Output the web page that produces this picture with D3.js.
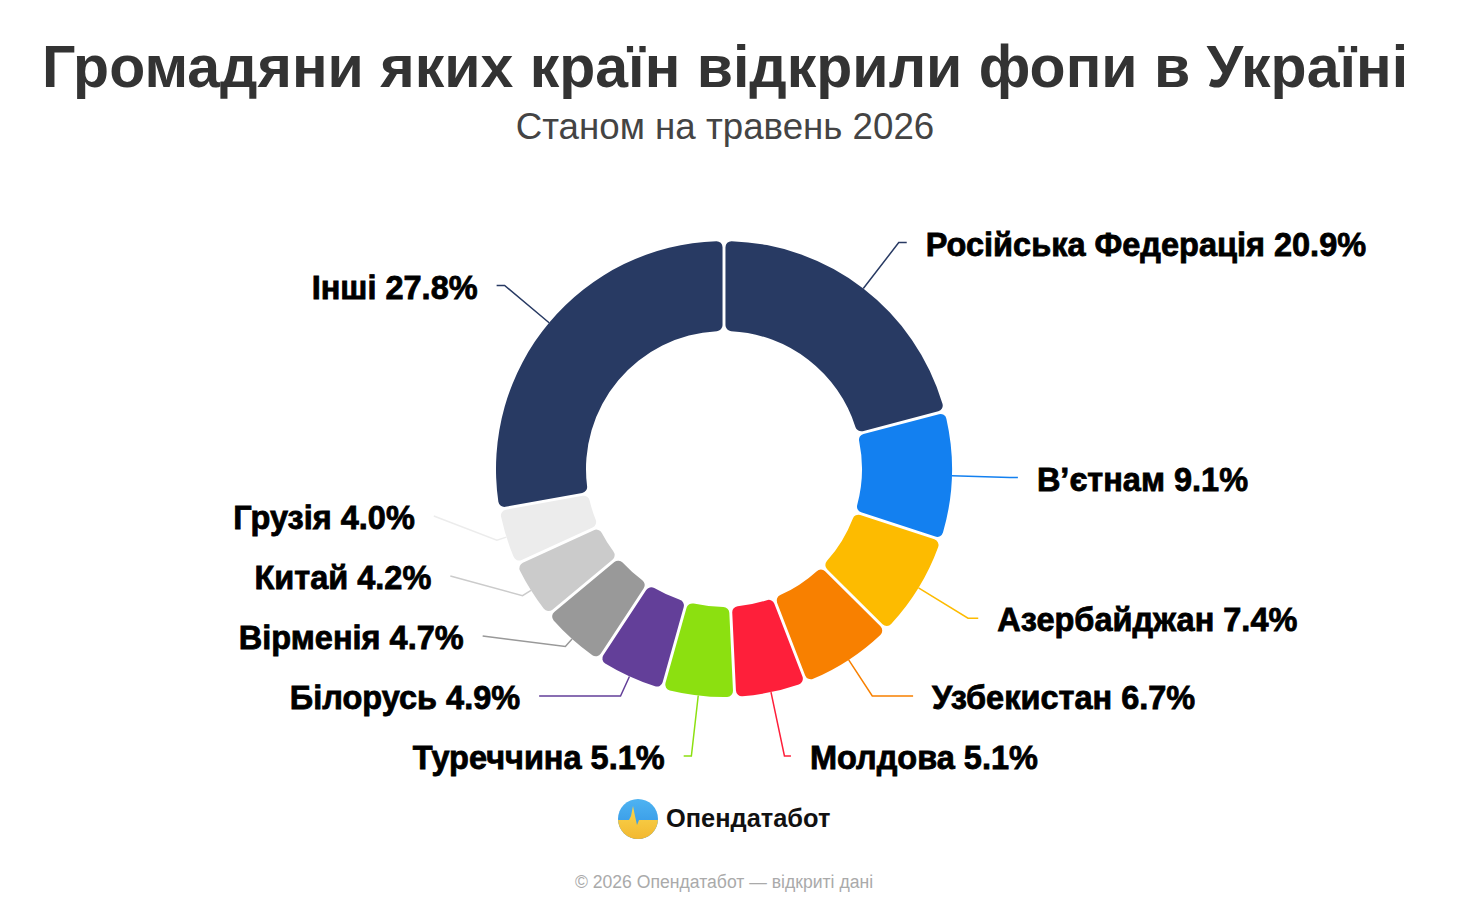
<!DOCTYPE html>
<html>
<head>
<meta charset="utf-8">
<script src="https://cdn.jsdelivr.net/npm/d3@7"></script>
<style>
  html, body { margin: 0; padding: 0; background: #fff; }
  svg { display: block; font-family: "Liberation Sans", Arial, sans-serif; }
</style>
</head>
<body>
<div id="chart"></div>
<script>
// дані
const categories = ["Російська Федерація", "В’єтнам", "Азербайджан", "Узбекистан", "Молдова",
  "Туреччина", "Білорусь", "Вірменія", "Китай", "Грузія", "Інші"];
const shares = [20.9, 9.1, 7.4, 6.7, 5.1, 5.1, 4.9, 4.7, 4.2, 4.0, 27.8];
const colors = ["#283a63", "#1380f0", "#fdbb00", "#f88000", "#fe1f3a",
  "#8ce010", "#633f99", "#999999", "#cbcbcb", "#ececec", "#283a63"];

const titleText = "Громадяни яких країн відкрили фопи в Україні";
const subtitleText = "Станом на травень 2026";
const brandText = "Опендатабот";
const footerText = "© 2026 Опендатабот — відкриті дані";

const width = 1480, height = 918;
const cx = 724, cy = 469;
const R = 228, r0 = 138;
const len = 58, len2 = 8, textGap = 19, labelGap = 60, maxY = 756;

const svg = d3.select("#chart").append("svg")
  .attr("width", width)
  .attr("height", height);

svg.append("rect").attr("width", width).attr("height", height).attr("fill", "#fff");

// заголовок
svg.append("text")
  .attr("x", cx + 1).attr("y", 87)
  .attr("text-anchor", "middle")
  .attr("font-size", 59).attr("font-weight", "bold")
  .attr("fill", "#333")
  .text(titleText);

svg.append("text")
  .attr("x", cx + 1).attr("y", 139)
  .attr("text-anchor", "middle")
  .attr("font-size", 36.7)
  .attr("fill", "#444")
  .text(subtitleText);

// кільце
const data = categories.map((c, i) => ({ name: c, value: shares[i], color: colors[i] }));
const pie = d3.pie().sort(null).value(d => d.value);
const arcs = pie(data);

const arc = d3.arc()
  .innerRadius(r0)
  .outerRadius(R)
  .cornerRadius(6)
  .padAngle(0.011);

const g = svg.append("g").attr("transform", `translate(${cx},${cy})`);
g.selectAll("path.slice")
  .data(arcs)
  .enter()
  .append("path")
  .attr("class", "slice")
  .attr("d", arc)
  .attr("fill", d => d.data.color);

// розкладка підписів
let items = arcs.map(a => {
  let mid = (a.startAngle + a.endAngle) / 2;
  let sx = Math.sin(mid), sy = -Math.cos(mid);
  return {
    d: a.data,
    sx, sy,
    dir: sx >= 0 ? 1 : -1,
    p0: [cx + R * sx, cy + R * sy],
    nx: cx + (R + len) * sx,
    y: cy + (R + len) * sy
  };
});

[1, -1].forEach(dir => {
  let side = items.filter(it => it.dir === dir).sort((a, b) => a.y - b.y);
  for (let i = 1; i < side.length; i++) {
    side[i].y = Math.max(side[i].y, side[i - 1].y + labelGap);
  }
  let last = side[side.length - 1];
  if (last.y > maxY) {
    last.y = maxY;
    for (let i = side.length - 2; i >= 0; i--) {
      side[i].y = Math.min(side[i].y, side[i + 1].y - labelGap);
    }
  }
  // перерахунок x по еліпсу
  let rA = R + len;
  [true, false].forEach(bottom => {
    let semi = side.filter(it => (it.y > cy) === bottom);
    if (!semi.length) return;
    let top = semi.reduce((m, it) => Math.abs(it.y - cy) >= Math.abs(m.y - cy) ? it : m, semi[0]);
    let dy0 = Math.abs(top.y - cy), dx0 = top.nx - cx;
    let rB = Math.abs(dx0) < rA ? Math.sqrt(dy0 * dy0 / (1 - dx0 * dx0 / rA / rA)) : rA;
    semi.forEach(it => {
      let dy = Math.abs(it.y - cy);
      let dx = Math.sqrt(Math.max(0, 1 - dy * dy / (rB * rB))) * rA;
      it.p2 = [cx + dir * (dx + len2), it.y];
    });
  });
});

items.forEach(it => {
  let t = Math.abs(it.sy) > 1e-6 ? (it.y - cy) / it.sy : R + len;
  t = Math.max(R + 10, Math.min(R + len + 15, t));
  it.p1 = [cx + t * it.sx, cy + t * it.sy];
});

const line = d3.line();
svg.append("g").selectAll("path")
  .data(items)
  .enter()
  .append("path")
  .attr("d", d => line([d.p0, d.p1, d.p2]))
  .attr("fill", "none")
  .attr("stroke", d => d.d.color)
  .attr("stroke-width", 1.5);

svg.append("g").selectAll("text")
  .data(items)
  .enter()
  .append("text")
  .attr("x", d => d.p2[0] + d.dir * textGap)
  .attr("y", d => d.y)
  .attr("dy", "0.4em")
  .attr("text-anchor", d => d.dir > 0 ? "start" : "end")
  .attr("font-size", 32.5)
  .attr("font-weight", "bold")
  .attr("fill", "#000")
  .attr("stroke", "#000")
  .attr("stroke-width", 0.8)
  .text(d => `${d.d.name} ${d.d.value.toFixed(1)}%`);

// логотип
const defs = svg.append("defs");
defs.append("clipPath").attr("id", "logoClip")
  .append("circle").attr("r", 20);
let gb = defs.append("linearGradient").attr("id", "gBlue").attr("x1", 0).attr("y1", 0).attr("x2", 0).attr("y2", 1);
gb.append("stop").attr("offset", "0%").attr("stop-color", "#4fb4f2");
gb.append("stop").attr("offset", "100%").attr("stop-color", "#2d8fe2");
let gy = defs.append("linearGradient").attr("id", "gYellow").attr("x1", 0).attr("y1", 0).attr("x2", 0).attr("y2", 1);
gy.append("stop").attr("offset", "0%").attr("stop-color", "#f9d64e");
gy.append("stop").attr("offset", "100%").attr("stop-color", "#f2b62e");

const logo = svg.append("g").attr("transform", "translate(638,819)");
const lg = logo.append("g").attr("clip-path", "url(#logoClip)");
lg.append("rect").attr("x", -21).attr("y", -21).attr("width", 42).attr("height", 42).attr("fill", "url(#gBlue)");
lg.append("path")
  .attr("d", "M-22,1 L-9,1 L-7,-3 L-5,-13 L-3,-3 L-1,6 L1,1 L22,1 L22,22 L-22,22 Z")
  .attr("fill", "url(#gYellow)");

svg.append("text")
  .attr("x", 666).attr("y", 818)
  .attr("dy", "0.36em")
  .attr("font-size", 25.4).attr("font-weight", "bold")
  .attr("fill", "#111")
  .text(brandText);

svg.append("text")
  .attr("x", cx).attr("y", 888)
  .attr("text-anchor", "middle")
  .attr("font-size", 17.6)
  .attr("fill", "#aaa")
  .text(footerText);
</script>
</body>
</html>
